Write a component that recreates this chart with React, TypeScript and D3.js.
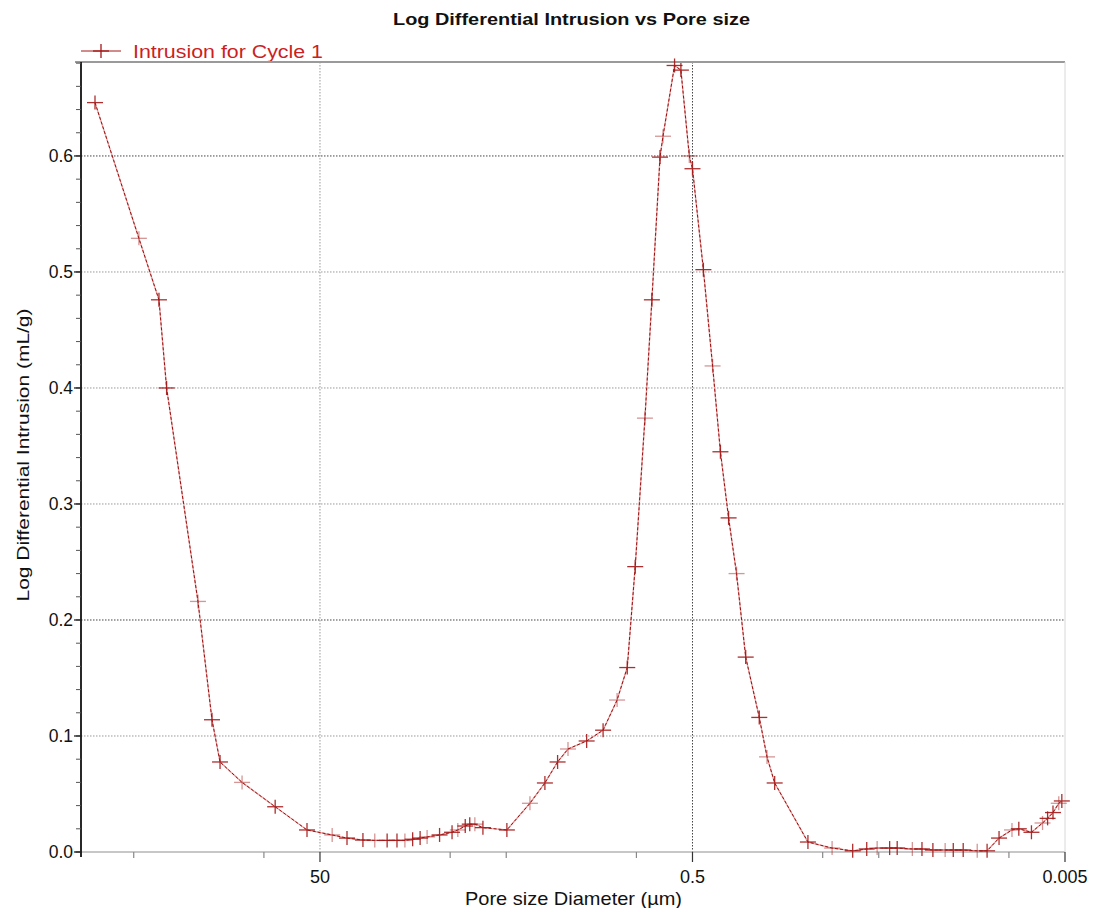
import React from "react";
import { scaleLog, scaleLinear, line, range } from "d3";

// pore size diameter (µm), large -> small
const poreDiameter = [
  807, 469, 366, 333, 226, 190, 172, 131, 87, 58.7,
  43, 35.8, 29.4, 25.4, 21.8, 19.3, 17.5, 15.9, 14.5, 13.3,
  11.4, 9.77, 9.1, 8.3, 7.85, 7.37, 6.67, 4.96, 3.73, 3.1,
  2.65, 2.33, 1.85, 1.51, 1.27, 1.12, 1.015, 0.9, 0.826, 0.747,
  0.72, 0.624, 0.577, 0.52, 0.5, 0.437, 0.39, 0.354, 0.32, 0.29,
  0.259, 0.219, 0.199, 0.181, 0.12, 0.089, 0.069, 0.058, 0.051, 0.0437,
  0.0398, 0.033, 0.0293, 0.0256, 0.022, 0.0199, 0.0176, 0.0148, 0.0131, 0.0113,
  0.00963, 0.00885, 0.00757, 0.0066, 0.0062, 0.0058, 0.0054, 0.0052,
];

// log differential intrusion (mL/g)
const logDiffIntrusion = [
  0.646, 0.529, 0.476, 0.4, 0.216, 0.114, 0.0776, 0.06, 0.039, 0.019,
  0.0147, 0.012, 0.0103, 0.01, 0.01, 0.01, 0.01, 0.011, 0.012, 0.013,
  0.0147, 0.017, 0.019, 0.0224, 0.024, 0.024, 0.021, 0.019, 0.042, 0.0595,
  0.0776, 0.0888, 0.0957, 0.105, 0.131, 0.159, 0.246, 0.374, 0.476, 0.599,
  0.617, 0.678, 0.674, 0.6, 0.589, 0.502, 0.419, 0.345, 0.288, 0.24,
  0.168, 0.116, 0.082, 0.0595, 0.0086, 0.0034, 0.001, 0.0026, 0.0034, 0.0034,
  0.0034, 0.0026, 0.0026, 0.0017, 0.0017, 0.0017, 0.0017, 0.001, 0.001, 0.012,
  0.019, 0.02, 0.017, 0.025, 0.029, 0.034, 0.042, 0.044,
];

const xTickValues = [500, 100, 50, 10, 5, 1, 0.5, 0.1, 0.05, 0.01, 0.005];
const xTickLabels = ["", "", "50", "", "", "", "0.5", "", "", "", "0.005"];
const yTickValues = [0, 0.1, 0.2, 0.3, 0.4, 0.5, 0.6];
const yTickLabels = ["0.0", "0.1", "0.2", "0.3", "0.4", "0.5", "0.6"];

const seriesName = "Intrusion for Cycle 1";
const chartTitle = "Log Differential Intrusion vs Pore size";
const xTitle = "Pore size Diameter (µm)";
const yTitle = "Log Differential Intrusion (mL/g)";

const W = 1082;
const H = 900;
const left = 73;
const right = 1057;
const top = 54;
const bottom = 844;
const font = "Arial, 'Liberation Sans', sans-serif";

export default function App() {
  const x = scaleLog().domain([959.5, 0.005]).range([left, right]);
  const y = scaleLinear().domain([0, 0.681]).range([bottom, top]);

  const pts = poreDiameter.map((d, i) => [x(d), y(logDiffIntrusion[i])] as [number, number]);
  const path = line()(pts) || "";
  const minorY = range(0, 0.681, 0.02);

  const cross = (cx: number, cy: number, key: any, op = 1) => (
    <g key={key} stroke="#a41818" strokeWidth={1.3} opacity={op}>
      <line x1={cx - 8} x2={cx + 8} y1={cy} y2={cy} />
      <line x1={cx} x2={cx} y1={cy - 7} y2={cy + 7} />
    </g>
  );

  return (
    <svg width={W} height={H} style={{ display: "block" }} fontFamily={font}>
      <text x={563.5} y={17} textAnchor="middle" fontSize={17} fontWeight="bold" fill="#111"
        textLength={357} lengthAdjust="spacingAndGlyphs">
        {chartTitle}
      </text>

      {/* legend */}
      <line x1={left} x2={left + 40} y1={43} y2={43} stroke="#a41818" strokeWidth={1} />
      {cross(left + 20, 43, "leg")}
      <text x={left + 52} y={50} fontSize={18} fill="#cc1f1f" textLength={190} lengthAdjust="spacingAndGlyphs">
        {seriesName}
      </text>

      {/* gridlines */}
      {yTickValues.slice(1).map((t) => (
        <line key={"gy" + t} x1={left} x2={right} y1={y(t)} y2={y(t)}
          stroke={t === 0.2 || t === 0.6 ? "#444" : "#999"} strokeWidth={1} strokeDasharray="1.5 1.5" />
      ))}
      <line x1={x(50)} x2={x(50)} y1={top} y2={bottom} stroke="#999" strokeDasharray="1.5 1.5" />
      <line x1={x(0.5)} x2={x(0.5)} y1={top} y2={bottom} stroke="#444" strokeDasharray="1.5 1.5" />

      {/* frame */}
      <line x1={left - 6} x2={right} y1={top} y2={top} stroke="#9a9a9a" strokeWidth={2} />
      <line x1={left - 6} x2={right} y1={bottom} y2={bottom} stroke="#b5b5b5" strokeWidth={1.5} />
      <line x1={right} x2={right} y1={top} y2={bottom} stroke="#d8d8d8" strokeWidth={1} />
      <line x1={left} x2={left} y1={top} y2={bottom + 5} stroke="#111" strokeWidth={1.8} />

      {/* y axis */}
      {minorY.map((t, i) => (
        <line key={"my" + i} x1={left - 5} x2={left} y1={y(t)} y2={y(t)} stroke="#555" />
      ))}
      {yTickValues.map((t, i) => (
        <g key={"ty" + i}>
          <line x1={left - 7} x2={left} y1={y(t)} y2={y(t)} stroke="#111" strokeWidth={1.2} />
          <text x={left - 8} y={y(t) + 6} textAnchor="end" fontSize={17.5} fill="#111">
            {yTickLabels[i]}
          </text>
        </g>
      ))}

      {/* x axis */}
      {xTickValues.map((t, i) => (
        <g key={"tx" + i}>
          <line x1={x(t)} x2={x(t)} y1={bottom} y2={bottom + (xTickLabels[i] ? 10 : 6)}
            stroke={xTickLabels[i] ? "#333" : "#888"} strokeWidth={1.2} />
          <text x={x(t)} y={bottom + 31} textAnchor="middle" fontSize={18} fill="#111">
            {xTickLabels[i]}
          </text>
        </g>
      ))}

      {/* series */}
      <path d={path} fill="none" stroke="#f2a3a3" strokeWidth={1.4} />
      <path d={path} fill="none" stroke="#8e1212" strokeWidth={1} strokeDasharray="3 2" />
      {pts.map((p, i) => cross(p[0], p[1], "m" + i, i % 3 === 1 ? 0.45 : 0.9))}

      <text x={565.5} y={897} textAnchor="middle" fontSize={18.5} fill="#111"
        textLength={217} lengthAdjust="spacingAndGlyphs">
        {xTitle}
      </text>
      <text transform={`translate(21,447) rotate(-90)`} textAnchor="middle" fontSize={17} fill="#111"
        textLength={293} lengthAdjust="spacingAndGlyphs">
        {yTitle}
      </text>
    </svg>
  );
}
